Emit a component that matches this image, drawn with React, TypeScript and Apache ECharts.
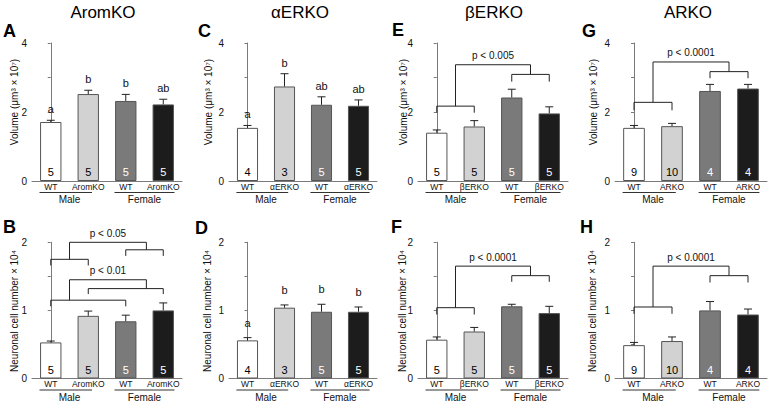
import React, { useEffect, useRef } from 'react';
import * as echarts from 'echarts';

const FONT = '"Liberation Sans", Arial, Helvetica, sans-serif';

// ---------- Data ----------
const titles = ['AromKO', 'αERKO', 'βERKO', 'ARKO'];
const panelLetters = ['A', 'C', 'E', 'G', 'B', 'D', 'F', 'H'];
const groupNames = ['Male', 'Female'];

const aromLabels = ['WT', 'AromKO', 'WT', 'AromKO'];
const aerkoLabels = ['WT', 'αERKO', 'WT', 'αERKO'];
const berkoLabels = ['WT', 'βERKO', 'WT', 'βERKO'];
const arkoLabels = ['WT', 'ARKO', 'WT', 'ARKO'];

const aromN = [5, 5, 5, 5];
const aerkoN = [4, 3, 5, 5];
const berkoN = [5, 5, 5, 5];
const arkoN = [9, 10, 4, 4];

// Volume (µm³ × 10⁷)
const aromVolume = [1.71, 2.52, 2.32, 2.22];
const aromVolumeErr = [0.05, 0.11, 0.19, 0.15];
const aromVolumeLetters = ['a', 'b', 'b', 'ab'];

const aerkoVolume = [1.54, 2.74, 2.21, 2.18];
const aerkoVolumeErr = [0.07, 0.37, 0.23, 0.17];
const aerkoVolumeLetters = ['a', 'b', 'ab', 'ab'];

const berkoVolume = [1.4, 1.58, 2.42, 1.96];
const berkoVolumeErr = [0.08, 0.17, 0.24, 0.19];

const arkoVolume = [1.54, 1.59, 2.61, 2.68];
const arkoVolumeErr = [0.07, 0.08, 0.19, 0.12];

// Neuronal cell number × 10⁴
const aromCells = [0.53, 0.92, 0.84, 1.0];
const aromCellsErr = [0.02, 0.07, 0.09, 0.11];

const aerkoCells = [0.56, 1.04, 0.98, 0.98];
const aerkoCellsErr = [0.04, 0.04, 0.11, 0.07];
const aerkoCellsLetters = ['a', 'b', 'b', 'b'];

const berkoCells = [0.57, 0.69, 1.06, 0.96];
const berkoCellsErr = [0.04, 0.06, 0.03, 0.1];

const arkoCells = [0.49, 0.55, 1.0, 0.94];
const arkoCellsErr = [0.04, 0.06, 0.13, 0.08];

// Brackets: [x1, x2, y, yLeftEnd, yRightEnd] in category index / value units
const aromCellBrackets = [
  [0, 1, 1.75, 1.66, 1.66],
  [2, 3, 1.89, 1.8, 1.8],
  [0.5, 2.55, 2.0, 1.75, 1.89],
  [0, 2, 1.15, 1.06, 1.06],
  [1, 3, 1.32, 1.24, 1.24],
  [0.5, 2.55, 1.45, 1.15, 1.32],
];
const aromCellPTexts = [
  [1.525, 2.0, 'p < 0.05'],
  [1.525, 1.45, 'p < 0.01'],
];

const berkoVolumeBrackets = [
  [0, 1, 2.17, 1.98, 1.98],
  [2, 3, 3.09, 2.88, 2.88],
  [0.5, 2.5, 3.37, 2.17, 3.09],
];
const berkoVolumePTexts = [[1.5, 3.37, 'p < 0.005']];

const berkoCellBrackets = [
  [0, 1, 1.04, 0.94, 0.94],
  [2, 3, 1.51, 1.42, 1.42],
  [0.5, 2.5, 1.65, 1.04, 1.51],
];
const berkoCellPTexts = [[1.5, 1.65, 'p < 0.0001']];

const arkoVolumeBrackets = [
  [0, 1, 2.28, 2.05, 2.05],
  [2, 3, 3.17, 2.98, 2.98],
  [0.5, 2.5, 3.45, 2.28, 3.17],
];
const arkoVolumePTexts = [[1.5, 3.45, 'p < 0.0001']];

const arkoCellBrackets = [
  [0, 1, 1.05, 0.95, 0.95],
  [2, 3, 1.51, 1.41, 1.41],
  [0.5, 2.5, 1.65, 1.05, 1.51],
];
const arkoCellPTexts = [[1.5, 1.65, 'p < 0.0001']];

// ---------- Panels ----------
type Panel = {
  row: number;
  col: number;
  labels: string[];
  n: number[];
  mean: number[];
  err: number[];
  letters?: string[];
  brackets?: any[];
  pTexts?: any[];
};

const panels: Panel[] = [
  { row: 0, col: 0, labels: aromLabels, n: aromN, mean: aromVolume, err: aromVolumeErr, letters: aromVolumeLetters },
  { row: 0, col: 1, labels: aerkoLabels, n: aerkoN, mean: aerkoVolume, err: aerkoVolumeErr, letters: aerkoVolumeLetters },
  { row: 0, col: 2, labels: berkoLabels, n: berkoN, mean: berkoVolume, err: berkoVolumeErr, brackets: berkoVolumeBrackets, pTexts: berkoVolumePTexts },
  { row: 0, col: 3, labels: arkoLabels, n: arkoN, mean: arkoVolume, err: arkoVolumeErr, brackets: arkoVolumeBrackets, pTexts: arkoVolumePTexts },
  { row: 1, col: 0, labels: aromLabels, n: aromN, mean: aromCells, err: aromCellsErr, brackets: aromCellBrackets, pTexts: aromCellPTexts },
  { row: 1, col: 1, labels: aerkoLabels, n: aerkoN, mean: aerkoCells, err: aerkoCellsErr, letters: aerkoCellsLetters },
  { row: 1, col: 2, labels: berkoLabels, n: berkoN, mean: berkoCells, err: berkoCellsErr, brackets: berkoCellBrackets, pTexts: berkoCellPTexts },
  { row: 1, col: 3, labels: arkoLabels, n: arkoN, mean: arkoCells, err: arkoCellsErr, brackets: arkoCellBrackets, pTexts: arkoCellPTexts },
];

// ---------- Layout / style ----------
const colLeft = [32, 229, 418, 615];
const colWidth = [150, 148, 150, 152];
const rowTop = [43, 242.3];
const rowHeight = [138, 136.2];
const rowMax = [4, 2];
const rowInterval = [1, 0.5];
const rowLetterGap = [11, 15];
const rowNames = ['Volume (μm³ × 10⁷)', 'Neuronal cell number × 10⁴'];
const nameX = [[14, 208, 403, 593], [14.5, 207, 402, 592]];
const nameY = [102, 311];
const titleX = [103, 300, 494, 688];
const letterPos = [
  [[3, 31], [198, 31], [392, 30], [582, 31]],
  [[3, 227], [195, 227.5], [391, 227], [580, 227]],
];
const barColors = ['#ffffff', '#d2d2d2', '#7a7a7a', '#1c1c1c'];
const nColors = ['#000', '#000', '#fff', '#fff'];
const AXIS = '#7a7a7a';
const INK = '#222';

function buildOption() {
  const grid: any[] = [];
  const xAxis: any[] = [];
  const yAxis: any[] = [];
  const series: any[] = [];
  const graphic: any[] = [];

  panels.forEach((P, p) => {
    const r = P.row;
    const c = P.col;
    grid.push({ left: colLeft[c], top: rowTop[r], width: colWidth[c], height: rowHeight[r], containLabel: false });
    xAxis.push({
      type: 'category',
      gridIndex: p,
      data: P.labels,
      axisLine: { lineStyle: { color: AXIS, width: 1 } },
      axisTick: { length: 3, lineStyle: { color: AXIS } },
      axisLabel: { interval: 0, margin: 1, fontSize: 8.5, color: '#111', fontFamily: FONT },
      splitLine: { show: false },
    });
    xAxis.push({ type: 'value', gridIndex: p, min: -0.5, max: 3.5, show: false });
    yAxis.push({
      type: 'value',
      gridIndex: p,
      min: 0,
      max: rowMax[r],
      interval: rowInterval[r],
      axisLine: { show: true, lineStyle: { color: AXIS, width: 1 } },
      axisTick: { show: true, length: 3, lineStyle: { color: AXIS } },
      splitLine: { show: false },
      axisLabel: {
        margin: 5,
        fontSize: 10,
        color: '#111',
        fontFamily: FONT,
        formatter: (v: number) => (r === 0 ? (v % 2 === 0 ? String(v) : '') : Number.isInteger(v) ? String(v) : ''),
      },
    });
    series.push({
      type: 'bar',
      xAxisIndex: 2 * p,
      yAxisIndex: p,
      barWidth: '57%',
      data: P.mean.map((v, i) => ({ value: v, itemStyle: { color: barColors[i] } })),
      itemStyle: { borderColor: '#555', borderWidth: 1 },
      silent: true,
    });
    series.push({
      type: 'custom',
      xAxisIndex: 2 * p + 1,
      yAxisIndex: p,
      data: [[0, 0]],
      clip: false,
      silent: true,
      z: 5,
      renderItem: (_params: any, api: any) => {
        const ch: any[] = [];
        const ls = { stroke: INK, lineWidth: 1, fill: 'none' };
        P.mean.forEach((m, i) => {
          const b = api.coord([i, m]);
          const t = api.coord([i, m + P.err[i]]);
          ch.push({ type: 'line', shape: { x1: b[0], y1: b[1], x2: t[0], y2: t[1] }, style: ls });
          ch.push({ type: 'line', shape: { x1: t[0] - 4, y1: t[1], x2: t[0] + 4, y2: t[1] }, style: ls });
          const z0 = api.coord([i, 0]);
          ch.push({
            type: 'text',
            x: z0[0],
            y: z0[1] - 9,
            style: { text: String(P.n[i]), fill: nColors[i], align: 'center', verticalAlign: 'middle', fontSize: 11, fontFamily: FONT },
          });
          if (P.letters) {
            ch.push({
              type: 'text',
              x: t[0],
              y: t[1] - rowLetterGap[r],
              style: { text: P.letters[i], fill: '#111', align: 'center', verticalAlign: 'middle', fontSize: 11, fontFamily: FONT },
            });
          }
        });
        (P.brackets || []).forEach((br: any) => {
          const pts = [
            api.coord([br[0], br[3]]),
            api.coord([br[0], br[2]]),
            api.coord([br[1], br[2]]),
            api.coord([br[1], br[4]]),
          ];
          ch.push({ type: 'polyline', shape: { points: pts }, style: ls });
        });
        (P.pTexts || []).forEach((pt: any) => {
          const q = api.coord([pt[0], pt[1]]);
          ch.push({
            type: 'text',
            x: q[0],
            y: q[1] - 9,
            style: { text: pt[2], fill: '#111', align: 'center', verticalAlign: 'middle', fontSize: 10, fontFamily: FONT },
          });
        });
        // Male / Female group marks
        const spans = [[-0.3, 1.1], [1.7, 3.3]];
        spans.forEach((s, g) => {
          const a = api.coord([s[0], 0]);
          const e = api.coord([s[1], 0]);
          const yl = a[1] + 11.5;
          ch.push({ type: 'line', shape: { x1: a[0], y1: yl, x2: e[0], y2: yl }, style: { stroke: '#333', lineWidth: 1 } });
          const mid = api.coord([g * 2 + 0.5, 0]);
          ch.push({
            type: 'text',
            x: mid[0],
            y: a[1] + 18.5,
            style: { text: groupNames[g], fill: '#111', align: 'center', verticalAlign: 'middle', fontSize: 10, fontFamily: FONT },
          });
        });
        return { type: 'group', children: ch };
      },
    });

    graphic.push({
      type: 'text',
      x: letterPos[r][c][0],
      y: letterPos[r][c][1],
      style: { text: panelLetters[p], fill: '#000', align: 'left', verticalAlign: 'middle', fontSize: 18, fontWeight: 'bold', fontFamily: FONT },
    });
    graphic.push({
      type: 'text',
      x: nameX[r][c],
      y: nameY[r],
      rotation: Math.PI / 2,
      style: { text: rowNames[r], fill: '#111', align: 'center', verticalAlign: 'middle', fontSize: 10, fontFamily: FONT },
    });
  });

  titles.forEach((t, c) => {
    graphic.push({
      type: 'text',
      x: titleX[c],
      y: 12,
      style: { text: t, fill: '#000', align: 'center', verticalAlign: 'middle', fontSize: 17, fontFamily: FONT },
    });
  });

  return {
    animation: false,
    backgroundColor: '#ffffff',
    textStyle: { fontFamily: FONT },
    grid,
    xAxis,
    yAxis,
    series,
    graphic,
  };
}

export default function App() {
  const ref = useRef<HTMLDivElement>(null);
  useEffect(() => {
    document.body.style.margin = '0';
    if (!ref.current) return;
    const chart = echarts.init(ref.current, undefined, { renderer: 'svg' });
    chart.setOption(buildOption() as any);
    return () => chart.dispose();
  }, []);
  return <div ref={ref} style={{ width: 771, height: 405 }} />;
}
